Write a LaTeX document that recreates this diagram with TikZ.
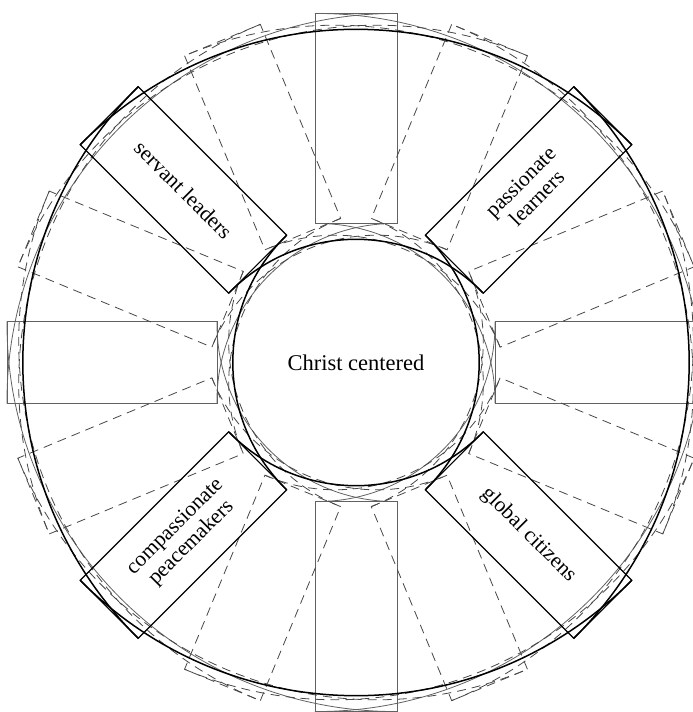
\documentclass[tikz,border=0pt]{standalone}
\usepackage{fontspec}
\setmainfont{Liberation Serif}
\begin{document}
\begin{tikzpicture}[x=1pt,y=1pt,
  boxshape/.style={minimum width=210pt, minimum height=82pt, inner sep=0pt, outer sep=0pt},
  graybox/.style={boxshape, draw=black!62, line width=0.8pt},
  blackbox/.style={boxshape, draw=black, line width=1.1pt, font=\fontsize{21.5}{23}\selectfont, align=center},
  dashbox/.style={boxshape, draw=black!72, line width=0.8pt, dash pattern=on 9pt off 6pt},
  grayarc/.style={draw=black!62, line width=0.8pt},
  blackarc/.style={draw=black, line width=1.5pt},
  dasharc/.style={draw=black!72, line width=0.8pt, dash pattern=on 9pt off 6pt},
  centertext/.style={font=\fontsize{22.5}{25}\selectfont}
]
\clip (-356pt,-349.5pt) rectangle (337pt,362.5pt);

% gray layer: rectangles on the axes
\node[graybox, rotate=0]   (gE) at (0:244pt) {};
\node[graybox, rotate=90]  (gN) at (90:244pt) {};
\node[graybox, rotate=180] (gW) at (180:244pt) {};
\node[graybox, rotate=270] (gS) at (270:244pt) {};
\foreach \m in {45,135,225,315} {
  \draw[grayarc] ([shift={(\m+180:54pt)}]\m-45.42:387.2pt) arc[start angle=\m-45.42, end angle=\m+45.42, radius=387.2pt];
  \draw[grayarc] ([shift={(\m+180:54pt)}]\m-45.87:177.2pt) arc[start angle=\m-45.87, end angle=\m+45.87, radius=177.2pt];
}

% dashed layers
\foreach \a [count=\i] in {22.5,67.5,112.5,157.5,202.5,247.5,292.5,337.5} {
  \node[dashbox, rotate=\a] (d\i) at (\a:244pt) {};
  \draw[dasharc] ([shift={(\a+180:54pt)}]\a-45.42:387.2pt) arc[start angle=\a-45.42, end angle=\a+45.42, radius=387.2pt];
  \draw[dasharc] ([shift={(\a+180:54pt)}]\a-45.87:177.2pt) arc[start angle=\a-45.87, end angle=\a+45.87, radius=177.2pt];
}

% black layer: labelled rectangles on the diagonals
\node[blackbox, rotate=45]  (passionate) at (45:244pt)  {passionate\\learners};
\node[blackbox, rotate=-45] (servant)    at (135:244pt) {servant leaders};
\node[blackbox, rotate=45]  (compassion) at (225:244pt) {compassionate\\peacemakers};
\node[blackbox, rotate=-45] (global)     at (315:244pt) {global citizens};
\foreach \m in {0,90,180,270} {
  \draw[blackarc] ([shift={(\m+180:54pt)}]\m-45.42:387.2pt) arc[start angle=\m-45.42, end angle=\m+45.42, radius=387.2pt];
  \draw[blackarc] ([shift={(\m+180:54pt)}]\m-45.87:177.2pt) arc[start angle=\m-45.87, end angle=\m+45.87, radius=177.2pt];
}

\node[centertext] (christ) at (0pt,0pt) {Christ centered};
\end{tikzpicture}
\end{document}
